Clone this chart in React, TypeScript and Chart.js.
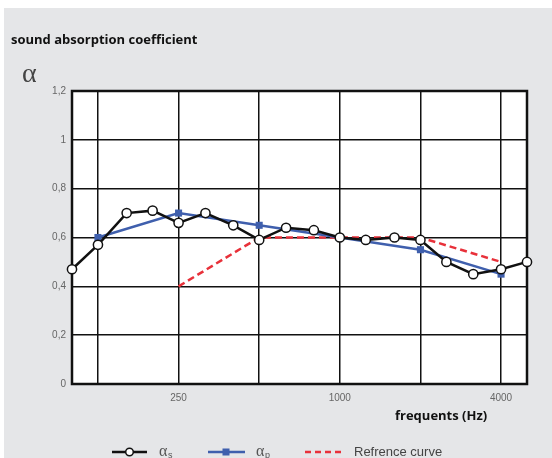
import React, { useEffect, useRef } from "react";
import { Chart, registerables } from "chart.js";

Chart.register(...registerables);

// ---- data ----
const thirdOctaveFreqs = [100, 125, 160, 200, 250, 315, 400, 500, 630, 800, 1000, 1250, 1600, 2000, 2500, 3150, 4000, 5000];
const alphaS = [0.47, 0.57, 0.70, 0.71, 0.66, 0.70, 0.65, 0.59, 0.64, 0.63, 0.60, 0.59, 0.60, 0.59, 0.50, 0.45, 0.47, 0.50];
const octaveFreqs = [125, 250, 500, 1000, 2000, 4000];
const alphaP = [0.60, 0.70, 0.65, 0.60, 0.55, 0.45];
const refFreqs = [250, 500, 1000, 2000, 4000];
const refCurve = [0.40, 0.60, 0.60, 0.60, 0.50];
const xGridTicks = [125, 250, 500, 1000, 2000, 4000];
const xLabelTicks = [250, 1000, 4000];
const yMin = 0;
const yMax = 1.2;
const yStep = 0.2;

const TITLE = "sound absorption coefficient";
const X_TITLE = "frequents (Hz)";
const LEGEND_S = "α";
const LEGEND_S_SUB = "s";
const LEGEND_P = "α";
const LEGEND_P_SUB = "p";
const LEGEND_REF = "Refrence curve";

const BLACK = "#111111";
const BLUE = "#3f5fad";
const RED = "#e8313a";
const BG = "#e5e6e8";

const toXY = (xs: number[], ys: number[]) => xs.map((x, i) => ({ x, y: ys[i] }));

const decorPlugin = {
  id: "decor",
  beforeDraw(chart: any) {
    const ctx = chart.ctx;
    const w = chart.width;
    const h = chart.height;
    ctx.save();
    ctx.fillStyle = "#ffffff";
    ctx.fillRect(0, 0, w, h);
    ctx.fillStyle = BG;
    ctx.fillRect(4, 8, w - 4, h - 8);
    const a = chart.chartArea;
    ctx.fillStyle = "#ffffff";
    ctx.fillRect(a.left, a.top, a.right - a.left, a.bottom - a.top);
    ctx.restore();
  },
  beforeDatasetsDraw(chart: any) {
    const ctx = chart.ctx;
    const a = chart.chartArea;
    ctx.save();
    ctx.strokeStyle = BLACK;
    ctx.lineWidth = 2.5;
    ctx.strokeRect(a.left, a.top, a.right - a.left, a.bottom - a.top);
    ctx.restore();
  },
  afterDraw(chart: any) {
    const ctx = chart.ctx;
    ctx.save();
    // title
    ctx.fillStyle = "#111";
    ctx.font = "bold 13px 'Open Sans'";
    ctx.textBaseline = "alphabetic";
    ctx.textAlign = "left";
    ctx.fillText(TITLE, 11, 44);
    // alpha symbol
    ctx.fillStyle = "#444";
    ctx.font = "28px 'Liberation Serif'";
    ctx.fillText("α", 22, 82);
    // x title
    ctx.fillStyle = "#111";
    ctx.font = "bold 13px 'Open Sans'";
    ctx.fillText(X_TITLE, 395, 420);

    // legend
    const ly = 452;
    // alpha_s
    ctx.strokeStyle = BLACK;
    ctx.lineWidth = 2.5;
    ctx.beginPath();
    ctx.moveTo(112, ly);
    ctx.lineTo(147, ly);
    ctx.stroke();
    ctx.beginPath();
    ctx.arc(129.5, ly, 3.8, 0, Math.PI * 2);
    ctx.fillStyle = "#fff";
    ctx.fill();
    ctx.lineWidth = 1.5;
    ctx.stroke();
    ctx.fillStyle = "#555";
    ctx.font = "16px 'Liberation Serif'";
    ctx.textBaseline = "middle";
    ctx.fillText(LEGEND_S, 159, ly);
    ctx.font = "9px 'Liberation Sans'";
    ctx.fillText(LEGEND_S_SUB, 168, ly + 4);
    // alpha_p
    ctx.strokeStyle = BLUE;
    ctx.lineWidth = 2.5;
    ctx.beginPath();
    ctx.moveTo(208, ly);
    ctx.lineTo(245, ly);
    ctx.stroke();
    ctx.fillStyle = BLUE;
    ctx.fillRect(222.5, ly - 3.5, 7, 7);
    ctx.fillStyle = "#555";
    ctx.font = "16px 'Liberation Serif'";
    ctx.fillText(LEGEND_P, 256, ly);
    ctx.font = "9px 'Liberation Sans'";
    ctx.fillText(LEGEND_P_SUB, 265, ly + 4);
    // ref curve
    ctx.strokeStyle = RED;
    ctx.lineWidth = 2.5;
    ctx.setLineDash([6, 4]);
    ctx.beginPath();
    ctx.moveTo(305, ly);
    ctx.lineTo(342, ly);
    ctx.stroke();
    ctx.setLineDash([]);
    ctx.fillStyle = "#444";
    ctx.font = "13px 'Liberation Sans'";
    ctx.fillText(LEGEND_REF, 354, ly);
    ctx.restore();
  },
};

export default function App() {
  const ref = useRef<HTMLCanvasElement | null>(null);

  useEffect(() => {
    document.body.style.margin = "0";
    const canvas = ref.current;
    if (!canvas) return;
    const chart = new Chart(canvas, {
      type: "line",
      data: {
        datasets: [
          {
            label: "alpha_s",
            data: toXY(thirdOctaveFreqs, alphaS),
            borderColor: BLACK,
            borderWidth: 2.5,
            pointRadius: 4.6,
            pointHoverRadius: 4.6,
            pointBorderWidth: 1.5,
            pointBackgroundColor: "#ffffff",
            pointBorderColor: BLACK,
            tension: 0,
            clip: false as any,
            order: 1,
          },
          {
            label: "alpha_p",
            data: toXY(octaveFreqs, alphaP),
            borderColor: BLUE,
            borderWidth: 2.5,
            pointStyle: "rect",
            pointRadius: 5,
            pointHoverRadius: 5,
            pointBorderWidth: 0,
            pointBackgroundColor: BLUE,
            pointBorderColor: BLUE,
            tension: 0,
            clip: false as any,
            order: 2,
          },
          {
            label: "ref",
            data: toXY(refFreqs, refCurve),
            borderColor: RED,
            borderWidth: 2.5,
            borderDash: [7, 4],
            pointRadius: 0,
            tension: 0,
            clip: false as any,
            order: 3,
          },
        ],
      },
      options: {
        animation: false,
        responsive: false,
        devicePixelRatio: 1,
        events: [],
        layout: { padding: { left: 0, top: 91, right: 25, bottom: 0 } },
        plugins: {
          legend: { display: false },
          title: { display: false },
          tooltip: { enabled: false },
        },
        scales: {
          x: {
            type: "logarithmic",
            min: 100,
            max: 5000,
            afterBuildTicks: (scale: any) => {
              scale.ticks = xGridTicks.map((v) => ({ value: v }));
            },
            afterFit: (scale: any) => {
              scale.height = 74;
            },
            grid: {
              color: BLACK,
              lineWidth: 1.5,
              drawTicks: false,
            },
            border: { display: false },
            ticks: {
              autoSkip: false,
              maxRotation: 0,
              padding: 8,
              color: "#666",
              font: { family: "'Liberation Sans'", size: 10 },
              callback: (v: any) => (xLabelTicks.includes(Number(v)) ? String(v) : ""),
            },
          },
          y: {
            type: "linear",
            min: yMin,
            max: yMax,
            afterFit: (scale: any) => {
              scale.width = 72;
            },
            grid: {
              color: BLACK,
              lineWidth: 1.5,
              drawTicks: false,
            },
            border: { display: false },
            ticks: {
              stepSize: yStep,
              padding: 6,
              color: "#666",
              font: { family: "'Liberation Sans'", size: 10 },
              callback: (v: any) => {
                const n = Number(v);
                if (Math.abs(n - Math.round(n)) < 1e-9) return String(Math.round(n));
                return n.toFixed(1).replace(".", ",");
              },
            },
          },
        },
      } as any,
      plugins: [decorPlugin],
    });
    return () => chart.destroy();
  }, []);

  return (
    <div style={{ width: 552, height: 458 }}>
      <canvas ref={ref} width={552} height={458} style={{ display: "block", width: 552, height: 458 }} />
    </div>
  );
}
